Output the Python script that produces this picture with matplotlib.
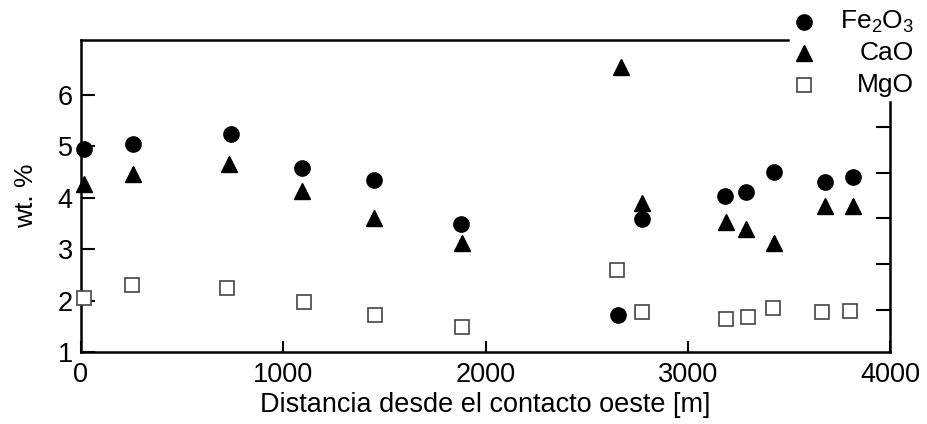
import matplotlib
matplotlib.use("Agg")
import matplotlib.pyplot as plt
from matplotlib.lines import Line2D

plt.rcParams['font.family'] = ['Liberation Sans', 'DejaVu Sans']

# Data
fe_x = [15, 257, 742, 1093, 1449, 1879, 2655, 2774, 3184, 3288, 3426, 3679, 3817]
fe_y = [4.95, 5.05, 5.24, 4.58, 4.35, 3.49, 1.72, 3.59, 4.03, 4.11, 4.50, 4.31, 4.40]
cao_x = [15, 257, 732, 1093, 1449, 1884, 2670, 2774, 3189, 3288, 3426, 3679, 3817]
cao_y = [4.27, 4.46, 4.66, 4.13, 3.61, 3.12, 6.54, 3.90, 3.53, 3.39, 3.12, 3.84, 3.84]
mgo_x = [15, 252, 722, 1103, 1454, 1884, 2650, 2774, 3189, 3298, 3421, 3664, 3803]
mgo_y = [2.05, 2.30, 2.25, 1.97, 1.72, 1.49, 2.60, 1.78, 1.64, 1.68, 1.86, 1.78, 1.80]
labels = [r'$\mathregular{Fe_2O_3}$', 'CaO', 'MgO']
xticks = [0, 1000, 2000, 3000, 4000]
yticks = [1, 2, 3, 4, 5, 6]

W, H = 927, 424
fig = plt.figure(figsize=(W/100, H/100), dpi=100)
ax = fig.add_axes([81/W, 1-352/H, (890-81)/W, (352-40)/H])

ms = 11
ax.plot(fe_x, fe_y, 'o', color='black', ms=ms, clip_on=False, zorder=3)
ax.plot(cao_x, cao_y, '^', color='black', ms=ms, clip_on=False, zorder=3)
ax.plot(mgo_x, mgo_y, 's', mfc='white', mec='#444444', mew=1.2, ms=ms-1, clip_on=False, zorder=3)

ax.set_xlim(0, 4000)
ax.set_ylim(1, 7.07)
ax.set_xticks(xticks)
ax.set_yticks(yticks)
ax.tick_params(axis='both', direction='in', width=1.5, labelsize=19.5)
ax.tick_params(axis='x', length=8, pad=7)
ax.tick_params(axis='y', length=10, pad=6)
ax.set_xlabel('Distancia desde el contacto oeste [m]', fontsize=19.5, labelpad=3)
ax.set_ylabel('wt. %', fontsize=19, labelpad=14)
for s in ['left', 'bottom', 'top']:
    ax.spines[s].set_linewidth(1.8)
ax.spines['top'].set_bounds(0, 3496)
ax.spines['right'].set_visible(False)

# secondary right axis (unlabelled ticks)
ax2 = ax.twinx()
ax2.set_ylim(0.08, 6.9)
ax2.set_yticks([1, 2, 3, 4, 5])
ax2.set_yticklabels([])
ax2.tick_params(axis='y', direction='in', length=10, width=1.5)
ax2.spines['right'].set_linewidth(1.8)
ax2.spines['right'].set_bounds(0.08, 5.54)
for s in ['left', 'top', 'bottom']:
    ax2.spines[s].set_visible(False)

# legend (manual, figure coordinates)
rows = [22, 53, 85]
mk = [dict(marker='o', color='black', ms=ms),
      dict(marker='^', color='black', ms=ms),
      dict(marker='s', mfc='white', mec='#444444', mew=1.2, ms=ms-1)]
for r, m, lab in zip(rows, mk, labels):
    fig.add_artist(Line2D([804/W], [1-r/H], linestyle='none', transform=fig.transFigure, **m))
    fig.text(914/W, 1-r/H, lab, ha='right', va='center', fontsize=19)

fig.savefig('out.png', dpi=100)
